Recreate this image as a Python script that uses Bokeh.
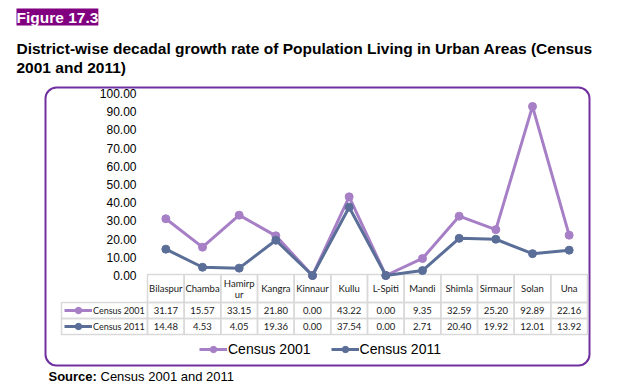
from bokeh.plotting import figure
from bokeh.models import (Range1d, ColumnDataSource, Label, LabelSet, BoxAnnotation,
                          Legend, LegendItem, FixedTicker, NumeralTickFormatter)
from bokeh.embed import file_html
from bokeh.resources import INLINE
from bokeh.core.properties import value

# ---------------- data ----------------
districts = ["Bilaspur", "Chamba", "Hamirpur", "Kangra", "Kinnaur", "Kullu",
             "L-Spiti", "Mandi", "Shimla", "Sirmaur", "Solan", "Una"]
header_labels = ["Bilaspur", "Chamba", "Hamirp\nur", "Kangra", "Kinnaur", "Kullu",
                 "L-Spiti", "Mandi", "Shimla", "Sirmaur", "Solan", "Una"]
census_2001 = [31.17, 15.57, 33.15, 21.80, 0.00, 43.22, 0.00, 9.35, 32.59, 25.20, 92.89, 22.16]
census_2011 = [14.48, 4.53, 4.05, 19.36, 0.00, 37.54, 0.00, 2.71, 20.40, 19.92, 12.01, 13.92]
series_names = ["Census 2001", "Census 2011"]
y_ticks = [0, 10, 20, 30, 40, 50, 60, 70, 80, 90, 100]

# ---------------- layout (page pixels) ----------------
W, H = 632, 389
LEFT = 10                      # frame left edge
FL, FR, FT, FB = 147, 587, 93, 275   # where the category span / 0..100 lie
N = len(districts)
XS = (FR - FL) / N
YS = (FB - FT) / 100.0


def px(xp):
    return (xp - FL) / XS - 0.5


def py(yp):
    return (FB - yp) / YS


C01 = "#A67FC6"
C11 = "#5A6E98"
BORDER = "#7030A0"
GRID = "#D9D9D9"

p = figure(width=W, height=H, output_backend="svg", toolbar_location=None,
           x_range=Range1d(px(LEFT), px(W)), y_range=Range1d(py(H), py(0)),
           x_axis_location=None,
           min_border_left=LEFT, min_border_right=0,
           min_border_top=0, min_border_bottom=0)
p.outline_line_color = None
p.xgrid.visible = False
p.ygrid.visible = False
p.background_fill_color = None
p.border_fill_color = "white"

ax = p.yaxis[0]
ax.ticker = FixedTicker(ticks=y_ticks)
ax.formatter = NumeralTickFormatter(format="0.00")
ax.axis_line_color = None
ax.major_tick_line_color = None
ax.minor_tick_line_color = None
ax.major_tick_out = 0
ax.major_tick_in = 0
ax.major_label_standoff = -(136 - LEFT)
ax.major_label_text_font = "Liberation Sans"
ax.major_label_text_font_size = "12px"
ax.major_label_text_color = "#000000"

# header lines: each wrapped header becomes two centred lines
HDR_MID, HDR_GAP = 288, 5.5
hx, hy, ht = [], [], []
for i, lab in enumerate(header_labels):
    parts = lab.split("\n")
    k = len(parts)
    for j, part in enumerate(parts):
        hx.append(i)
        hy.append(py(HDR_MID + (j - (k - 1) / 2) * 2 * HDR_GAP))
        ht.append(part)
hdr_src = ColumnDataSource(dict(x=hx, y=hy, t=ht))

src = ColumnDataSource(dict(
    x=list(range(N)), d=districts,
    c01=census_2001, c11=census_2011,
    t01=[f"{v:.2f}" for v in census_2001],
    t11=[f"{v:.2f}" for v in census_2011],
))

l1 = p.line("x", "c01", source=src, line_color=C01, line_width=3)
m1 = p.scatter("x", "c01", source=src, size=8, color=C01)
l2 = p.line("x", "c11", source=src, line_color=C11, line_width=3)
m2 = p.scatter("x", "c11", source=src, size=8, color=C11)

# ---------------- rounded frame ----------------
p.add_layout(BoxAnnotation(left=px(45), right=px(589), top=py(87), bottom=py(365),
                           fill_color=None, line_color=BORDER, line_alpha=1.0,
                           line_width=2, border_radius=11, level="underlay"))

# ---------------- data table ----------------
row_edges = [py(274), py(302), py(318), py(334)]
for i in range(N):
    for r in range(3):
        p.add_layout(BoxAnnotation(left=i - 0.5, right=i + 0.5,
                                   top=row_edges[r], bottom=row_edges[r + 1],
                                   fill_color=None, line_color=GRID, line_alpha=1.0,
                                   line_width=1.5, level="underlay"))
for r in (1, 2):
    p.add_layout(BoxAnnotation(left=px(61), right=-0.5,
                               top=row_edges[r], bottom=row_edges[r + 1],
                               fill_color=None, line_color=GRID, line_alpha=1.0,
                               line_width=1.5, level="underlay"))

tbl_font = dict(text_font=value("Lato"), text_font_size="9.5px", text_color="#1a1a1a",
                text_align="center", text_baseline="middle")
p.add_layout(LabelSet(x="x", y="y", text="t", source=hdr_src, **tbl_font))
p.add_layout(LabelSet(x="x", y=py(310), text="t01", source=src, **tbl_font))
p.add_layout(LabelSet(x="x", y=py(326), text="t11", source=src, **tbl_font))

# legend keys in the table
leg_tbl = Legend(items=[LegendItem(label=series_names[0], renderers=[l1, m1]),
                        LegendItem(label=series_names[1], renderers=[l2, m2])],
                 orientation="vertical", location=(64 - LEFT, H - 334),
                 glyph_width=28, glyph_height=16, label_height=16, spacing=0,
                 label_standoff=1, padding=0, margin=0,
                 label_text_font="Lato", label_text_font_size="9px",
                 label_text_color="#1a1a1a",
                 border_line_color=None, background_fill_alpha=0)
p.add_layout(leg_tbl)

# bottom legend
leg = Legend(items=[LegendItem(label=series_names[0], renderers=[l1, m1]),
                    LegendItem(label=series_names[1], renderers=[l2, m2])],
             orientation="horizontal", location=(199 - LEFT, H - 357),
             glyph_width=28, glyph_height=16, label_height=16, spacing=20,
             label_standoff=1, padding=0, margin=0,
             label_text_font="Liberation Sans", label_text_font_size="14px",
             label_text_color="#000000",
             border_line_color=None, background_fill_alpha=0)
p.add_layout(leg)

# ---------------- titles ----------------
p.add_layout(Label(x=px(16), y=py(8), text="Figure 17.3", text_color="white",
                   text_font="Liberation Sans", text_font_style="bold",
                   text_font_size="15.5px", text_baseline="top",
                   background_fill_color="#800080", padding=0))
p.add_layout(Label(x=px(16), y=py(39),
                   text="District-wise decadal growth rate of Population Living in Urban Areas (Census",
                   text_font="Liberation Sans", text_font_style="bold",
                   text_font_size="15.5px", text_baseline="top", text_color="#000000"))
p.add_layout(Label(x=px(16), y=py(58), text="2001 and 2011)",
                   text_font="Liberation Sans", text_font_style="bold",
                   text_font_size="15.5px", text_baseline="top", text_color="#000000"))
p.add_layout(Label(x=px(48), y=py(368), text="Source:",
                   text_font="Liberation Sans", text_font_style="bold",
                   text_font_size="13px", text_baseline="top", text_color="#000000"))
p.add_layout(Label(x=px(100), y=py(368), text="Census 2001 and 2011",
                   text_font="Liberation Sans",
                   text_font_size="13px", text_baseline="top", text_color="#000000"))

open("out.html", "w").write(file_html(p, INLINE))
